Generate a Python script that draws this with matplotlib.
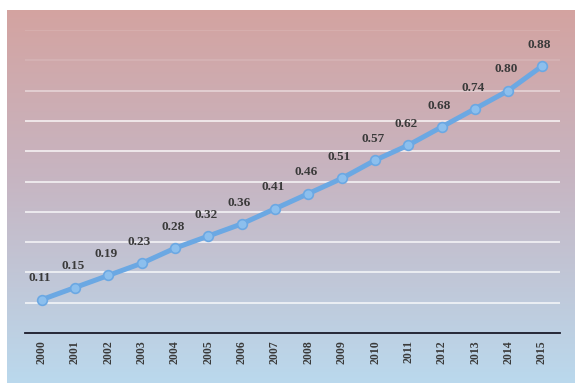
import numpy as np
import matplotlib.pyplot as plt
from matplotlib.colors import LinearSegmentedColormap

years = ['2000', '2001', '2002', '2003', '2004', '2005', '2006', '2007',
         '2008', '2009', '2010', '2011', '2012', '2013', '2014', '2015']
values = [0.11, 0.15, 0.19, 0.23, 0.28, 0.32, 0.36, 0.41,
          0.46, 0.51, 0.57, 0.62, 0.68, 0.74, 0.80, 0.88]
labels = ['0.11', '0.15', '0.19', '0.23', '0.28', '0.32', '0.36', '0.41',
          '0.46', '0.51', '0.57', '0.62', '0.68', '0.74', '0.80', '0.88']

W, H = 575, 383
fig = plt.figure(figsize=(W / 100, H / 100), dpi=100)
fig.patch.set_facecolor('white')

# gradient background
bg = fig.add_axes([7 / W, 0, 1 - 7 / W, 1 - 10 / H])
cmap = LinearSegmentedColormap.from_list(
    'bg', [(0.0, (0.83, 0.64, 0.63)), (0.45, (0.78, 0.71, 0.76)),
           (1.0, (0.73, 0.85, 0.93))])
grad = np.linspace(0, 1, 256).reshape(-1, 1)
bg.imshow(grad, aspect='auto', cmap=cmap, extent=[0, 1, 0, 1], origin='upper')
bg.set_axis_off()

ax = fig.add_axes([25 / W, 1 - 333 / H, 535 / W, (333 - 30) / H])
ax.patch.set_alpha(0)
x = np.arange(len(years))
ax.set_xlim(-0.5, len(years) - 0.5 + 0.05)
ax.set_ylim(0, 1.0)

grid_levels = np.arange(0.1, 1.01, 0.1)
for g in grid_levels:
    a = 0.75 if g < 0.75 else (0.45 if g < 0.85 else 0.12)
    ax.plot([-0.5, 15.6], [g, g], color='white', lw=1.3, alpha=a, zorder=1)

ax.plot(x, values, color=(0.42, 0.66, 0.89), lw=3.6, zorder=3,
        marker='o', markersize=7, markerfacecolor=(0.55, 0.75, 0.93),
        markeredgecolor=(0.42, 0.66, 0.89), markeredgewidth=1.2)

for xi, v, lab in zip(x, values, labels):
    ax.annotate(lab, (xi, v), xytext=(-1.5, 11), textcoords='offset points',
                ha='center', va='bottom', fontsize=9.5, color='#3a3a3a',
                family='Liberation Serif', fontweight='bold')

for s in ['top', 'right', 'left']:
    ax.spines[s].set_visible(False)
ax.spines['bottom'].set_color('#1a1a2a')
ax.spines['bottom'].set_linewidth(1.3)
ax.set_yticks([])
ax.set_xticks(x)
ax.set_xticklabels(years, rotation=90, fontsize=8.5, color='#3a3a3a',
                   family='Liberation Serif', fontweight='bold')
ax.tick_params(axis='x', length=0, pad=5)

fig.savefig('out.png', dpi=100)
